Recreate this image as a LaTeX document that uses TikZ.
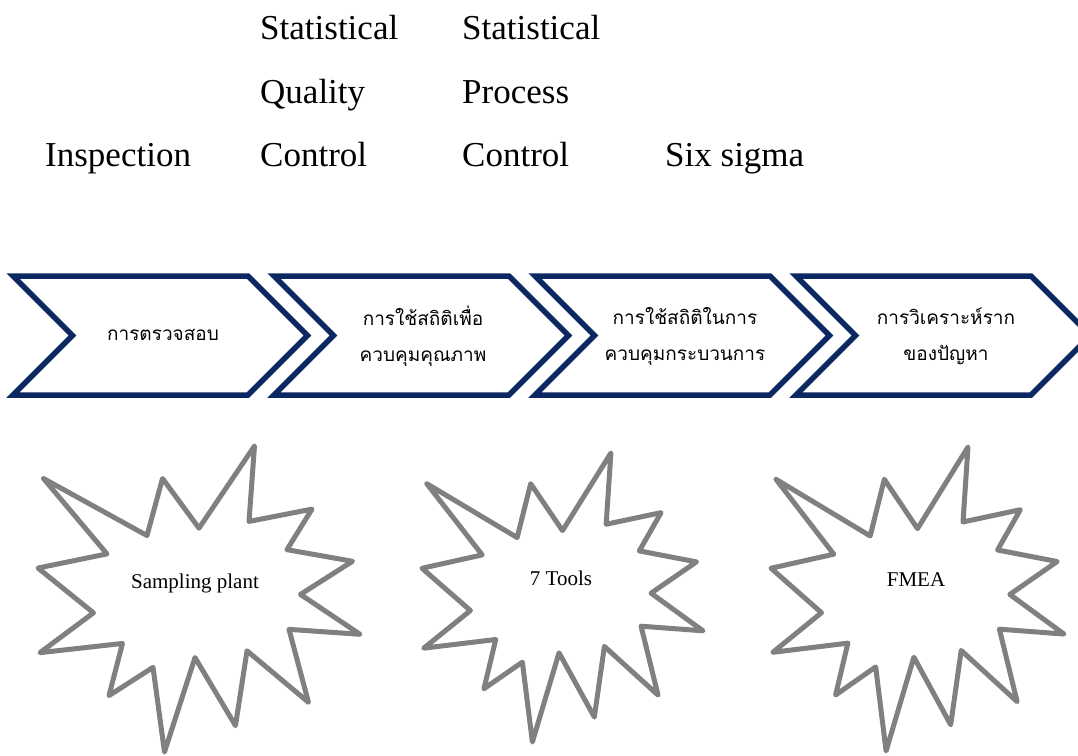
\documentclass[tikz,border=0pt]{standalone}
\usepackage{fontspec}
\setmainfont{Liberation Serif}
\newfontfamily\thai[Script=Thai]{Loma}
\definecolor{navy}{RGB}{12,40,98}
\definecolor{stargray}{RGB}{128,128,128}
\tikzset{
  toptext/.style={anchor=base west, inner sep=0pt, font=\fontsize{35}{42}\selectfont},
  chev/.style={draw=navy, line width=5.5pt, line join=miter, fill=white},
  thaitext/.style={align=center, inner sep=0pt, font=\thai\fontsize{19}{36}\selectfont},
  burst/.style={draw=stargray, line width=5pt, line join=round, fill=white},
  bursttext/.style={inner sep=0pt, font=\fontsize{21}{24}\selectfont}
}
\newcommand{\chevronshape}[1]{%
  \draw[chev] (#1,276) -- ++(235,0) -- ++(59.5,59.5) -- ++(-59.5,59.5) -- ++(-235,0) -- ++(59.5,-59.5) -- cycle;}
\newcommand{\burstshape}[4]{%
  \begin{scope}[shift={(#1,#2)}, xscale=#3/100, yscale=#4/100]
  \draw[burst] (50,26.85) -- (67.23,0) -- (65.53,24.65) -- (85.09,20.63) -- (77.32,33.87) -- (97.67,37.67) -- (81.51,48.50) -- (100,61.53) -- (77.95,59.92) -- (84.00,83.77) -- (64.91,66.93) -- (61.33,91.38) -- (48.76,69.14) -- (39.28,100) -- (35.72,72.35) -- (22.05,81.56) -- (26.24,64.52) -- (0.625,67.53) -- (17.23,54.51) -- (0,39.88) -- (21.42,35.26) -- (1.71,10.63) -- (33.85,29.26) -- (38.67,10.63) -- cycle;
  \end{scope}}
\begin{document}
\begin{tikzpicture}[x=1pt,y=-1pt]
\useasboundingbox (0,0) rectangle (1078,755);
\clip (0,0) rectangle (1078,755);
% top labels
\node[toptext] (insp) at (45,166) {Inspection};
\node[toptext] (sqc1) at (260,39) {Statistical};
\node[toptext] (sqc2) at (260,103) {Quality};
\node[toptext] (sqc3) at (260,166) {Control};
\node[toptext] (spc1) at (462,39) {Statistical};
\node[toptext] (spc2) at (462,103) {Process};
\node[toptext] (spc3) at (462,166) {Control};
\node[toptext] (six) at (665,166) {Six sigma};
% chevrons
\chevronshape{13}
\chevronshape{274}
\chevronshape{535}
\chevronshape{796}
\node[thaitext] (c1) at (163,335) {การตรวจสอบ};
\node[thaitext] (c2) at (423,336) {การใช้สถิติเพื่อ\\ควบคุมคุณภาพ};
\node[thaitext] (c3) at (685,336) {การใช้สถิติในการ\\ควบคุมกระบวนการ};
\node[thaitext] (c4) at (946,336) {การวิเคราะห์ราก\\ของปัญหา};
% bursts
\burstshape{38}{446}{322}{306}
\burstshape{422}{453}{281}{289}
\burstshape{771}{447}{293}{304}
\node[bursttext] (b1) at (195,583) {Sampling plant};
\node[bursttext] (b2) at (561,578) {7 Tools};
\node[bursttext] (b3) at (916,580) {FMEA};
\end{tikzpicture}
\end{document}
